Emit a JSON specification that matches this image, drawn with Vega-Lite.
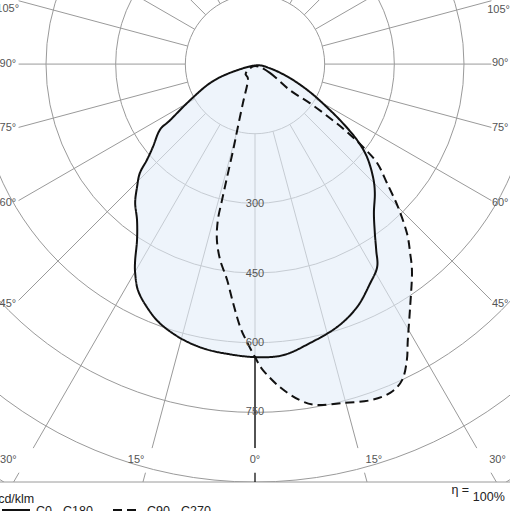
{
  "$schema": "https://vega.github.io/schema/vega-lite/v6.json",
  "width": 510,
  "height": 482,
  "autosize": {"type": "none"},
  "padding": {"left": 0, "top": 0, "right": 0, "bottom": 29},
  "background": "white",
  "config": {"view": {"stroke": null}, "font": "Liberation Sans"},
  "datasets": {
    "rings": [
      {"r": 150, "x": 0, "y": 0},
      {"r": 300, "x": 0, "y": 0},
      {"r": 450, "x": 0, "y": 0},
      {"r": 600, "x": 0, "y": 0},
      {"r": 750, "x": 0, "y": 0},
      {"r": 900, "x": 0, "y": 0},
      {"r": 1050, "x": 0, "y": 0}
    ],
    "spokes": [
      {"x": 0, "y": -150, "x2": 0, "y2": -827},
      {"x": 38.8, "y": -144.9, "x2": 221.6, "y2": -827},
      {"x": -38.8, "y": -144.9, "x2": -221.6, "y2": -827},
      {"x": 75, "y": -129.9, "x2": 477.5, "y2": -827},
      {"x": -75, "y": -129.9, "x2": -477.5, "y2": -827},
      {"x": 106.1, "y": -106.1, "x2": 509, "y2": -509},
      {"x": -106.1, "y": -106.1, "x2": -509, "y2": -509},
      {"x": 129.9, "y": -75, "x2": 509, "y2": -293.9},
      {"x": -129.9, "y": -75, "x2": -509, "y2": -293.9},
      {"x": 144.9, "y": -38.8, "x2": 509, "y2": -136.4},
      {"x": -144.9, "y": -38.8, "x2": -509, "y2": -136.4},
      {"x": 150, "y": 0, "x2": 509, "y2": 0},
      {"x": -150, "y": 0, "x2": -509, "y2": 0},
      {"x": 144.9, "y": 38.8, "x2": 509, "y2": 136.4},
      {"x": -144.9, "y": 38.8, "x2": -509, "y2": 136.4},
      {"x": 129.9, "y": 75, "x2": 509, "y2": 293.9},
      {"x": -129.9, "y": 75, "x2": -509, "y2": 293.9},
      {"x": 106.1, "y": 106.1, "x2": 509, "y2": 509},
      {"x": -106.1, "y": 106.1, "x2": -509, "y2": 509},
      {"x": 75, "y": 129.9, "x2": 509, "y2": 881.6},
      {"x": -75, "y": 129.9, "x2": -509, "y2": 881.6},
      {"x": 235.8, "y": -880, "x2": 241.2, "y2": -900},
      {"x": -235.8, "y": -880, "x2": -241.2, "y2": -900},
      {"x": 508.1, "y": -880, "x2": 519.6, "y2": -900},
      {"x": -508.1, "y": -880, "x2": -519.6, "y2": -900},
      {"x": -549, "y": -900, "x2": 549, "y2": -900}
    ],
    "axis0": [
      {"x": 0, "y": -631, "x2": 0, "y2": -827},
      {"x": 0, "y": -880, "x2": 0, "y2": -900}
    ],
    "curves": [
      {"plane": "C0 - C180", "i": 1, "x": 0, "y": -3},
      {"plane": "C0 - C180", "i": 2, "x": 32, "y": -9},
      {"plane": "C0 - C180", "i": 3, "x": 75, "y": -30},
      {"plane": "C0 - C180", "i": 4, "x": 118, "y": -60},
      {"plane": "C0 - C180", "i": 5, "x": 155, "y": -93},
      {"plane": "C0 - C180", "i": 6, "x": 189, "y": -127},
      {"plane": "C0 - C180", "i": 7, "x": 220, "y": -164},
      {"plane": "C0 - C180", "i": 8, "x": 241, "y": -200},
      {"plane": "C0 - C180", "i": 9, "x": 254, "y": -243},
      {"plane": "C0 - C180", "i": 10, "x": 258, "y": -278},
      {"plane": "C0 - C180", "i": 11, "x": 256, "y": -321},
      {"plane": "C0 - C180", "i": 12, "x": 258, "y": -364},
      {"plane": "C0 - C180", "i": 13, "x": 261, "y": -401},
      {"plane": "C0 - C180", "i": 14, "x": 263, "y": -437},
      {"plane": "C0 - C180", "i": 15, "x": 248, "y": -472},
      {"plane": "C0 - C180", "i": 16, "x": 220, "y": -523},
      {"plane": "C0 - C180", "i": 17, "x": 177, "y": -566},
      {"plane": "C0 - C180", "i": 18, "x": 118, "y": -601},
      {"plane": "C0 - C180", "i": 19, "x": 60, "y": -627},
      {"plane": "C0 - C180", "i": 20, "x": 0, "y": -631},
      {"plane": "C0 - C180", "i": 21, "x": -60, "y": -624},
      {"plane": "C0 - C180", "i": 22, "x": -112, "y": -612},
      {"plane": "C0 - C180", "i": 23, "x": -161, "y": -590},
      {"plane": "C0 - C180", "i": 24, "x": -205, "y": -558},
      {"plane": "C0 - C180", "i": 25, "x": -233, "y": -523},
      {"plane": "C0 - C180", "i": 26, "x": -252, "y": -487},
      {"plane": "C0 - C180", "i": 27, "x": -258, "y": -450},
      {"plane": "C0 - C180", "i": 28, "x": -258, "y": -422},
      {"plane": "C0 - C180", "i": 29, "x": -254, "y": -379},
      {"plane": "C0 - C180", "i": 30, "x": -254, "y": -336},
      {"plane": "C0 - C180", "i": 31, "x": -258, "y": -299},
      {"plane": "C0 - C180", "i": 32, "x": -254, "y": -265},
      {"plane": "C0 - C180", "i": 33, "x": -248, "y": -235},
      {"plane": "C0 - C180", "i": 34, "x": -233, "y": -207},
      {"plane": "C0 - C180", "i": 35, "x": -220, "y": -179},
      {"plane": "C0 - C180", "i": 36, "x": -205, "y": -142},
      {"plane": "C0 - C180", "i": 37, "x": -183, "y": -121},
      {"plane": "C0 - C180", "i": 38, "x": -140, "y": -78},
      {"plane": "C0 - C180", "i": 39, "x": -97, "y": -41},
      {"plane": "C0 - C180", "i": 40, "x": -54, "y": -19},
      {"plane": "C90 - C270", "i": 41, "x": 0, "y": -4},
      {"plane": "C90 - C270", "i": 42, "x": 32, "y": -19},
      {"plane": "C90 - C270", "i": 43, "x": 75, "y": -56},
      {"plane": "C90 - C270", "i": 44, "x": 118, "y": -84},
      {"plane": "C90 - C270", "i": 45, "x": 161, "y": -116},
      {"plane": "C90 - C270", "i": 46, "x": 198, "y": -146},
      {"plane": "C90 - C270", "i": 47, "x": 233, "y": -179},
      {"plane": "C90 - C270", "i": 48, "x": 263, "y": -213},
      {"plane": "C90 - C270", "i": 49, "x": 284, "y": -256},
      {"plane": "C90 - C270", "i": 50, "x": 308, "y": -308},
      {"plane": "C90 - C270", "i": 51, "x": 327, "y": -364},
      {"plane": "C90 - C270", "i": 52, "x": 334, "y": -407},
      {"plane": "C90 - C270", "i": 53, "x": 338, "y": -450},
      {"plane": "C90 - C270", "i": 54, "x": 334, "y": -523},
      {"plane": "C90 - C270", "i": 55, "x": 329, "y": -594},
      {"plane": "C90 - C270", "i": 56, "x": 327, "y": -637},
      {"plane": "C90 - C270", "i": 57, "x": 317, "y": -680},
      {"plane": "C90 - C270", "i": 58, "x": 291, "y": -708},
      {"plane": "C90 - C270", "i": 59, "x": 248, "y": -724},
      {"plane": "C90 - C270", "i": 60, "x": 189, "y": -730},
      {"plane": "C90 - C270", "i": 61, "x": 134, "y": -734},
      {"plane": "C90 - C270", "i": 62, "x": 97, "y": -724},
      {"plane": "C90 - C270", "i": 63, "x": 54, "y": -696},
      {"plane": "C90 - C270", "i": 64, "x": 17, "y": -659},
      {"plane": "C90 - C270", "i": 65, "x": 0, "y": -631},
      {"plane": "C90 - C270", "i": 66, "x": -17, "y": -599},
      {"plane": "C90 - C270", "i": 67, "x": -32, "y": -566},
      {"plane": "C90 - C270", "i": 68, "x": -47, "y": -515},
      {"plane": "C90 - C270", "i": 69, "x": -60, "y": -465},
      {"plane": "C90 - C270", "i": 70, "x": -75, "y": -422},
      {"plane": "C90 - C270", "i": 71, "x": -82, "y": -379},
      {"plane": "C90 - C270", "i": 72, "x": -80, "y": -336},
      {"plane": "C90 - C270", "i": 73, "x": -71, "y": -293},
      {"plane": "C90 - C270", "i": 74, "x": -60, "y": -243},
      {"plane": "C90 - C270", "i": 75, "x": -47, "y": -185},
      {"plane": "C90 - C270", "i": 76, "x": -37, "y": -136},
      {"plane": "C90 - C270", "i": 77, "x": -26, "y": -84},
      {"plane": "C90 - C270", "i": 78, "x": -15, "y": -34},
      {"plane": "C90 - C270", "i": 79, "x": -20, "y": -20}
    ],
    "ringLabels": [
      {"label": "300", "x": 0, "y": -301},
      {"label": "450", "x": 0, "y": -452},
      {"label": "600", "x": 0, "y": -601},
      {"label": "750", "x": 0, "y": -749}
    ],
    "bottomLabels": [
      {"label": "0°", "x": 0, "y": -853},
      {"label": "15°", "x": -256, "y": -853},
      {"label": "15°", "x": 256, "y": -853},
      {"label": "30°", "x": -531, "y": -853},
      {"label": "30°", "x": 522, "y": -853}
    ],
    "leftLabels": [
      {"label": "105°", "x": -508, "y": 118},
      {"label": "90°", "x": -514, "y": 0},
      {"label": "75°", "x": -514, "y": -138},
      {"label": "60°", "x": -514, "y": -299},
      {"label": "45°", "x": -514, "y": -517}
    ],
    "rightLabels": [
      {"label": "105°", "x": 500, "y": 116},
      {"label": "90°", "x": 510, "y": 2},
      {"label": "75°", "x": 510, "y": -138},
      {"label": "60°", "x": 510, "y": -299},
      {"label": "45°", "x": 510, "y": -517}
    ]
  },
  "encoding": {
    "x": {"field": "x", "type": "quantitative", "scale": {"domain": [-549, 549], "nice": false, "zero": false}, "axis": null},
    "y": {"field": "y", "type": "quantitative", "scale": {"domain": [-900, 138], "nice": false, "zero": false}, "axis": null}
  },
  "layer": [
    {
      "data": {"name": "rings"},
      "mark": {"type": "point", "shape": "circle", "filled": false, "clip": true, "opacity": 1, "stroke": "#9a9a9a", "strokeWidth": 1},
      "encoding": {
        "size": {"field": "r", "type": "quantitative", "scale": {"type": "pow", "exponent": 2, "zero": true, "domain": [0, 1050], "range": [0, 951171]}, "legend": null}
      }
    },
    {
      "data": {"name": "spokes"},
      "mark": {"type": "rule", "color": "#9a9a9a", "strokeWidth": 1},
      "encoding": {"x2": {"field": "x2"}, "y2": {"field": "y2"}}
    },
    {
      "data": {"name": "curves"},
      "mark": {"type": "line", "interpolate": "cardinal-closed", "fill": "#e2edf8", "fillOpacity": 0.6, "strokeOpacity": 0},
      "encoding": {"order": {"field": "i", "type": "quantitative"}}
    },
    {
      "data": {"name": "axis0"},
      "mark": {"type": "rule", "color": "#111", "strokeWidth": 1.3},
      "encoding": {"x2": {"field": "x2"}, "y2": {"field": "y2"}}
    },
    {
      "data": {"name": "curves"},
      "mark": {"type": "line", "interpolate": "cardinal-closed", "color": "#111", "strokeWidth": 2},
      "encoding": {
        "order": {"field": "i", "type": "quantitative"},
        "strokeDash": {
          "field": "plane",
          "type": "nominal",
          "scale": {"domain": ["C0 - C180", "C90 - C270"], "range": [[1, 0], [9, 5]]},
          "legend": {
            "orient": "none",
            "legendX": 0,
            "legendY": 495,
            "direction": "horizontal",
            "title": null,
            "symbolType": "stroke",
            "symbolSize": 784,
            "symbolStrokeWidth": 4,
            "symbolStrokeColor": "#111",
            "labelFontSize": 12.5,
            "labelColor": "#222",
            "labelOffset": 4,
            "columnPadding": 12,
            "padding": 0
          }
        }
      }
    },
    {
      "data": {"name": "ringLabels"},
      "mark": {"type": "text", "fontSize": 11, "color": "#555", "align": "center", "baseline": "middle"},
      "encoding": {"text": {"field": "label"}}
    },
    {
      "data": {"name": "bottomLabels"},
      "mark": {"type": "text", "fontSize": 11, "color": "#555", "align": "center", "baseline": "middle"},
      "encoding": {"text": {"field": "label"}}
    },
    {
      "data": {"name": "leftLabels"},
      "mark": {"type": "text", "fontSize": 11, "color": "#555", "align": "right", "baseline": "middle"},
      "encoding": {"text": {"field": "label"}}
    },
    {
      "data": {"name": "rightLabels"},
      "mark": {"type": "text", "fontSize": 11, "color": "#555", "align": "left", "baseline": "middle"},
      "encoding": {"text": {"field": "label"}}
    },
    {
      "data": {"values": [{"label": "cd/klm", "x": -553, "y": -945}]},
      "mark": {"type": "text", "fontSize": 12.5, "color": "#222", "align": "left", "baseline": "alphabetic"},
      "encoding": {"text": {"field": "label"}}
    },
    {
      "data": {"values": [{"label": "η =", "x": 461, "y": -926}]},
      "mark": {"type": "text", "fontSize": 12.5, "color": "#222", "align": "right", "baseline": "alphabetic"},
      "encoding": {"text": {"field": "label"}}
    },
    {
      "data": {"values": [{"label": "100%", "x": 469, "y": -941}]},
      "mark": {"type": "text", "fontSize": 12.5, "color": "#222", "align": "left", "baseline": "alphabetic"},
      "encoding": {"text": {"field": "label"}}
    }
  ]
}
